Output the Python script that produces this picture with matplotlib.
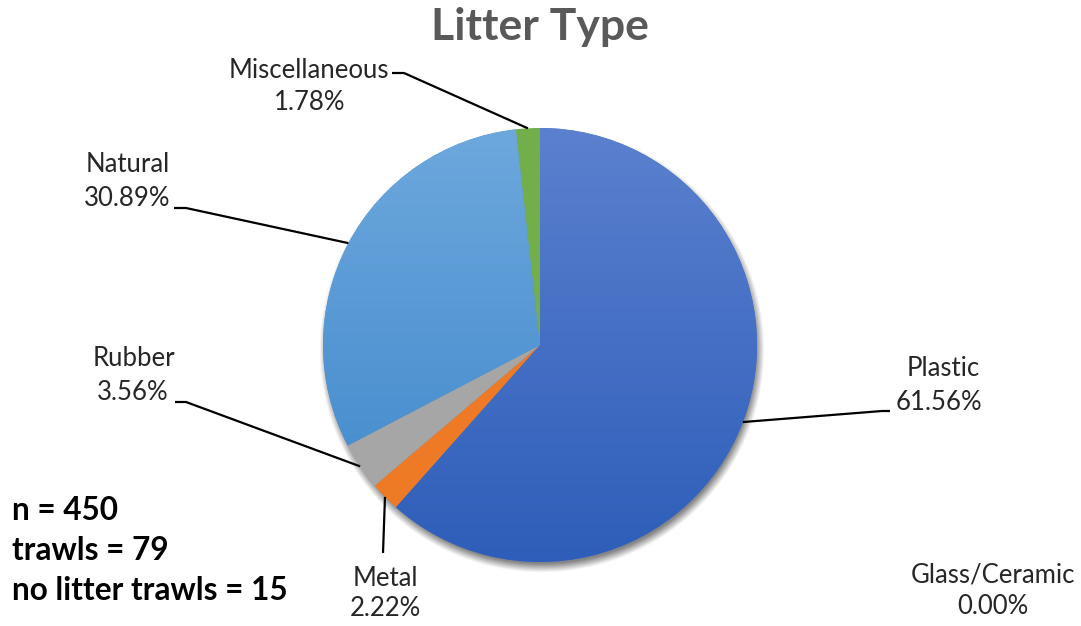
import numpy as np
import matplotlib
matplotlib.use("Agg")
import matplotlib.pyplot as plt
from matplotlib.colors import LinearSegmentedColormap

plt.rcParams['font.family'] = ['Lato', 'DejaVu Sans']

# Litter composition (percent of items)
categories = ["Plastic", "Glass/Ceramic", "Metal", "Rubber", "Natural", "Miscellaneous"]
percents = [61.56, 0.00, 2.22, 3.56, 30.89, 1.78]
stats_lines = ["n = 450", "trawls = 79", "no litter trawls = 15"]
title = "Litter Type"

base_colors = ["#4472C4", "#A5A5A5", "#ED7D31", "#A5A5A5", "#5B9BD5", "#70AD47"]
gradients = {
    "Plastic": ("#5B80CF", "#2E5EB9"),
    "Natural": ("#6DA8DD", "#3D86CA"),
}
solid = {"Metal": "#EE7A26", "Rubber": "#A6A6A6", "Miscellaneous": "#72AE4A"}

W, H = 1081, 626
fig = plt.figure(figsize=(W / 100, H / 100), dpi=100)
ax = fig.add_axes([0, 0, 1, 1])
ax.set_xlim(0, W)
ax.set_ylim(0, H)
ax.axis("off")

cx, cy, R = 540, H - 345, 217

# soft drop shadow beneath the pie
sx, sy = cx + 2, cy - 5
ext = R + 20
gx = np.linspace(sx - ext, sx + ext, 400)
gy = np.linspace(sy - ext, sy + ext, 400)
GX, GY = np.meshgrid(gx, gy)
rr = np.hypot(GX - sx, GY - sy)
alpha = 0.6 * np.clip((R + 6 - rr) / 9, 0, 1)
shadow = np.zeros((400, 400, 4))
shadow[..., :3] = 0.2
shadow[..., 3] = alpha
ax.imshow(shadow, extent=(sx - ext, sx + ext, sy - ext, sy + ext), origin="lower",
          zorder=1, interpolation="bilinear")

colors = [solid.get(c, base_colors[i]) for i, c in enumerate(categories)]
wedges, _ = ax.pie(percents, startangle=90, counterclock=False, center=(cx, cy),
                   radius=R, colors=colors, wedgeprops=dict(linewidth=0, zorder=2),
                   normalize=True)
ax.set_xlim(0, W)
ax.set_ylim(0, H)
ax.set_aspect("equal")

# vertical colour gradients for the large slices
grad = np.linspace(0, 1, 256).reshape(-1, 1)
for w, name in zip(wedges, categories):
    if name in gradients:
        top, bottom = gradients[name]
        cmap = LinearSegmentedColormap.from_list(name, [bottom, top])
        im = ax.imshow(grad, cmap=cmap, extent=(cx - R, cx + R, cy - R, cy + R),
                       origin="lower", aspect="auto", zorder=3)
        im.set_clip_path(w)

def edge_point(w):
    mid = np.deg2rad((w.theta1 + w.theta2) / 2)
    return cx + R * np.cos(mid), cy + R * np.sin(mid)

# label positions (pixel coords from top) and leader elbows
label_pos = {
    "Plastic": ((943, 369), (939, 403)),
    "Glass/Ceramic": ((993, 575), (993, 606)),
    "Metal": ((385, 578), (385, 608)),
    "Rubber": ((134, 358), (133, 392)),
    "Natural": ((128, 165), (127, 198)),
    "Miscellaneous": ((309, 70), (310, 103)),
}
leaders = {
    "Plastic": [(890, 411), (882, 411)],
    "Metal": [(383, 553)],
    "Rubber": [(175, 402), (186, 402)],
    "Natural": [(174, 208), (186, 208)],
    "Miscellaneous": [(392, 73), (404, 73)],
}

fs = 18.5
for w, name, p in zip(wedges, categories, percents):
    (x1, y1), (x2, y2) = label_pos[name]
    ax.text(x1, H - y1, name, ha="center", va="center", fontsize=fs, color="#262626", zorder=5)
    ax.text(x2, H - y2, f"{p:.2f}%", ha="center", va="center", fontsize=fs, color="#262626", zorder=5)
    if name in leaders:
        ex, ey = edge_point(w)
        pts = [(x, H - y) for x, y in leaders[name]] + [(ex, ey)]
        xs, ys = zip(*pts)
        ax.plot(xs, ys, color="black", lw=1.6, zorder=4, solid_capstyle="butt")

ax.text(540, H - 27, title, ha="center", va="center", fontsize=32, fontweight="bold",
        color="#595959")

for i, line in enumerate(stats_lines):
    ax.text(12, H - (510 + 40 * i), line, ha="left", va="center", fontsize=22.7,
            fontweight="bold", color="black")

fig.savefig("out.png", dpi=100, facecolor="white")
